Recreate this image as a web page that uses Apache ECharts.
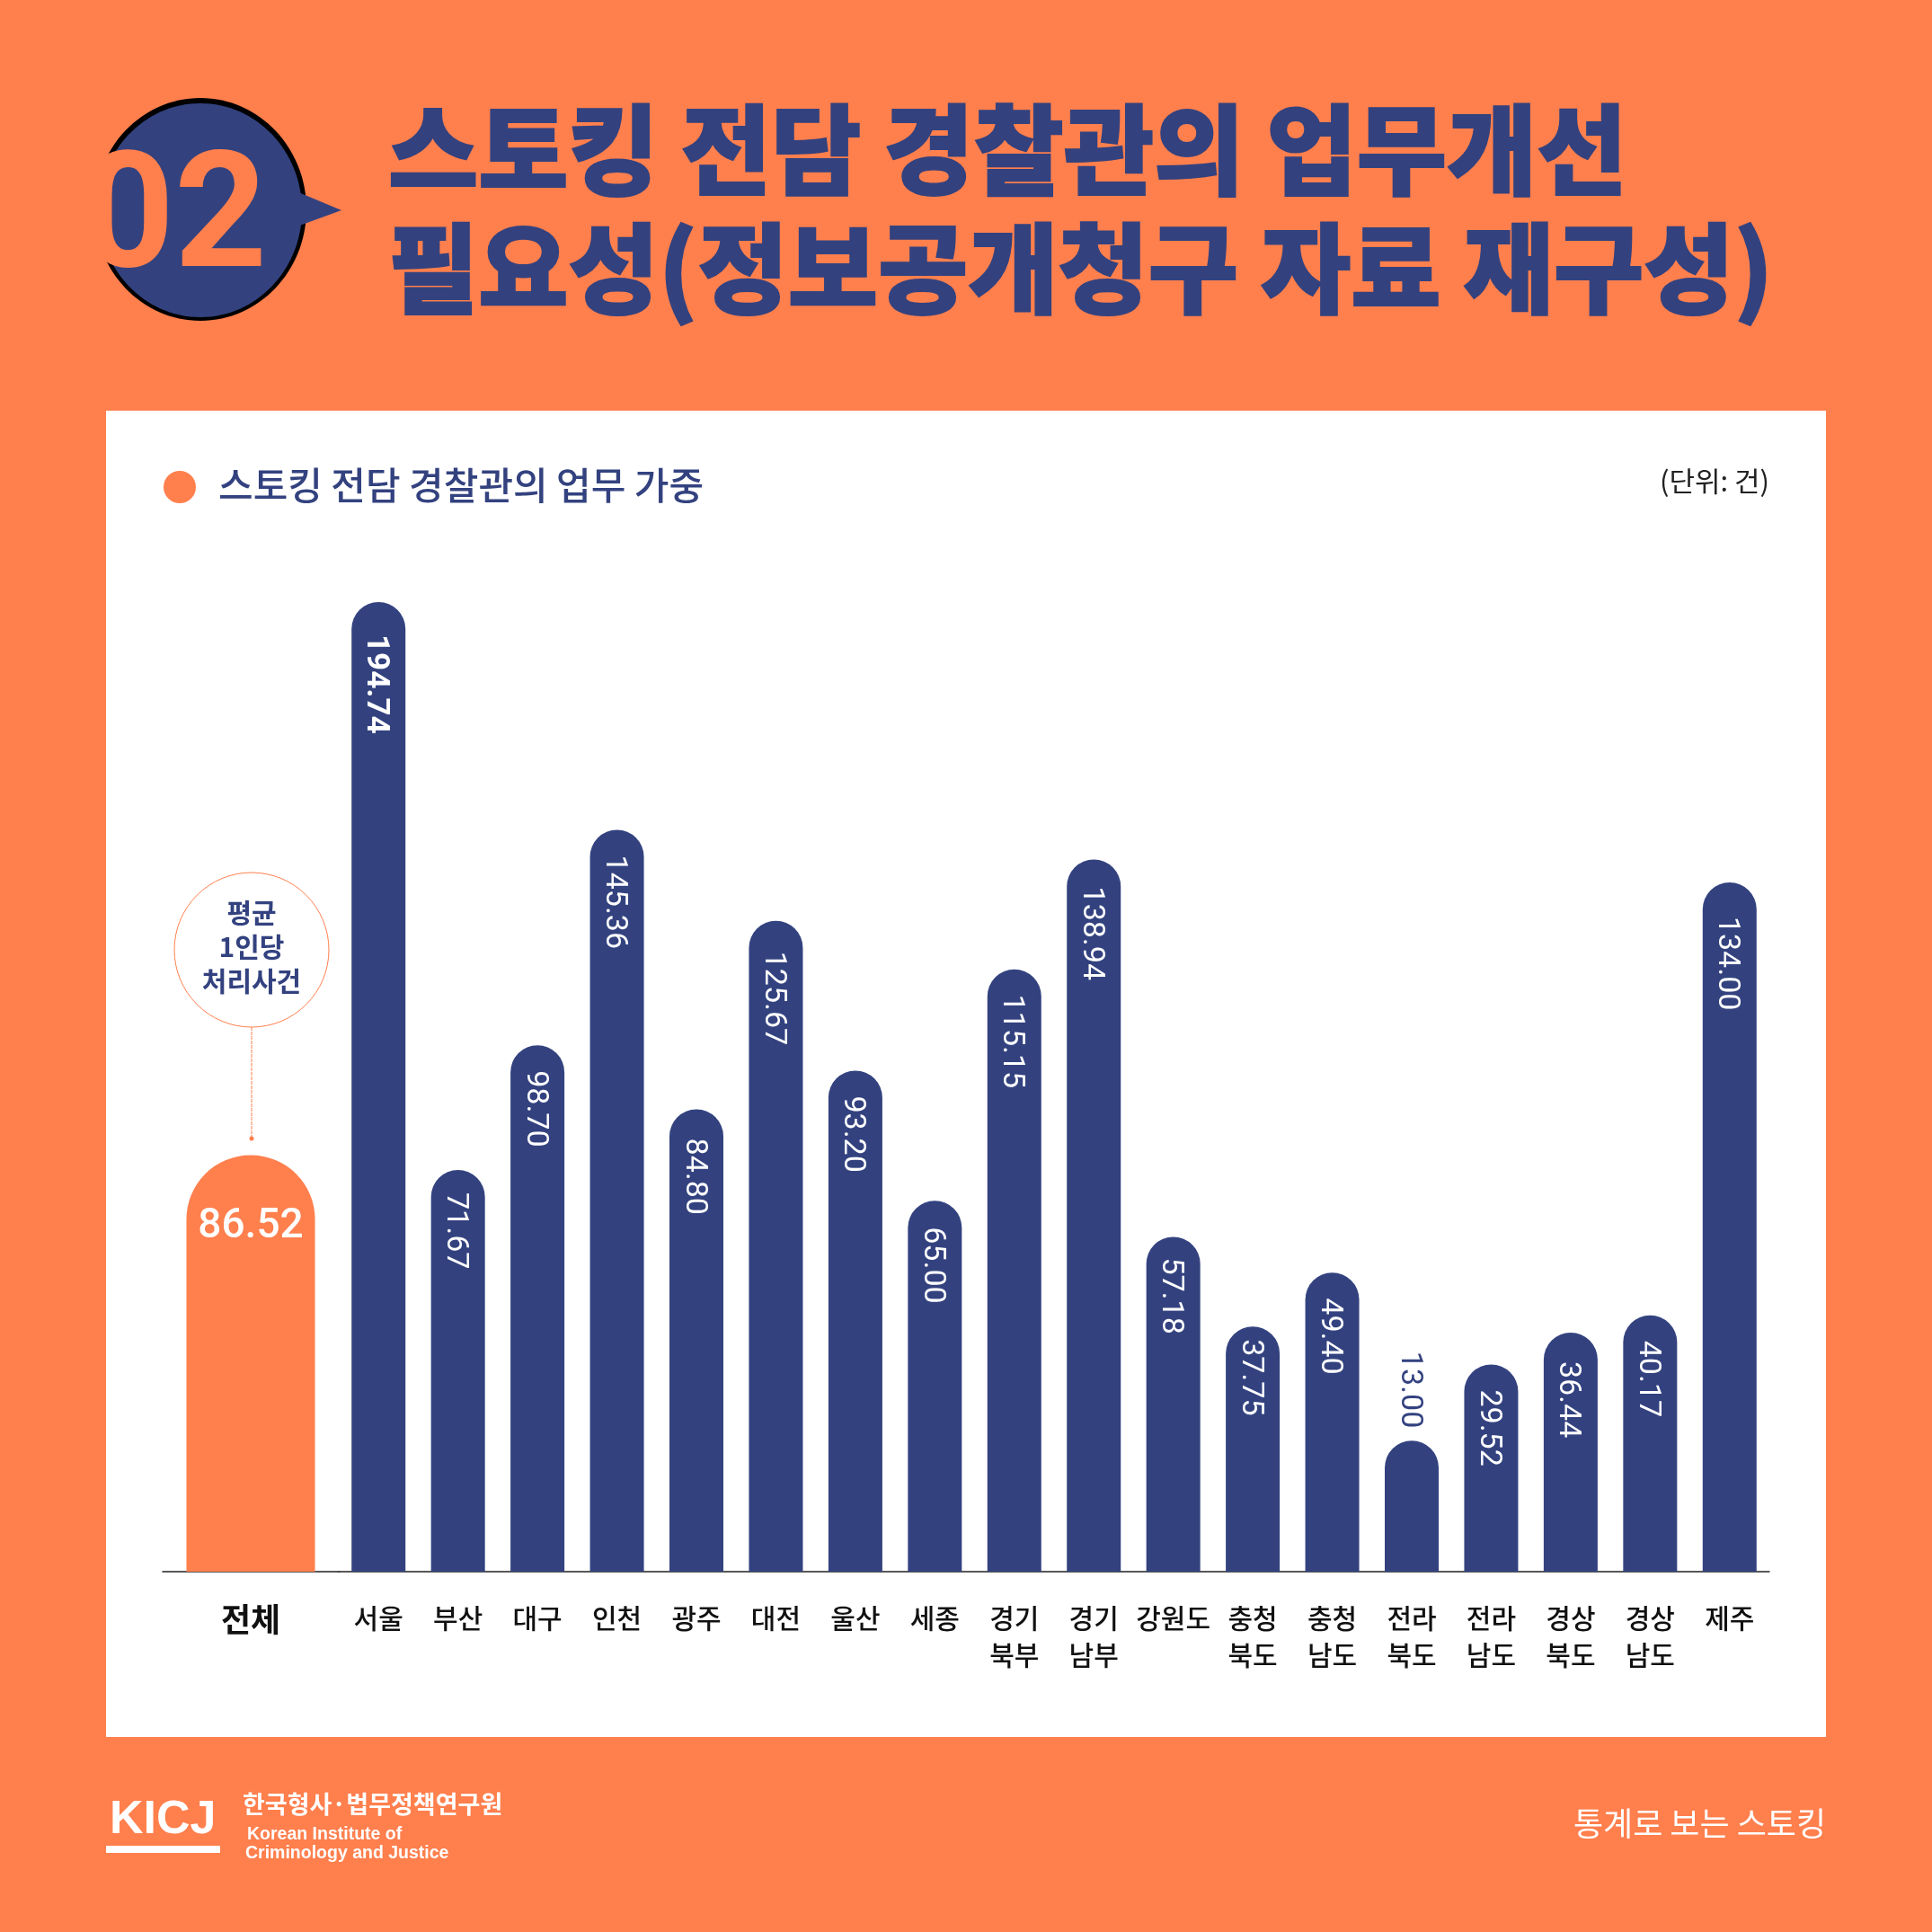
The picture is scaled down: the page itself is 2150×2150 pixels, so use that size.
<!DOCTYPE html>
<html>
<head>
    <meta charset="utf-8">
    <script src="https://cdn.jsdelivr.net/npm/echarts@6/dist/echarts.min.js"></script>
    <style>
        body, html {
            margin: 0;
            height: 100%;
        }
        #main {
            width: 2150px;
            height: 2150px;
        }
    </style>
</head>
<body>
<div id="main"></div>

<script>
    // 전체 평균
    var totalCategory = ['전체'];
    var totalValues = [86.52];
    // 지역별
    var regionCategories = ['서울', '부산', '대구', '인천', '광주', '대전', '울산', '세종', '경기\n북부', '경기\n남부',
        '강원도', '충청\n북도', '충청\n남도', '전라\n북도', '전라\n남도', '경상\n북도', '경상\n남도', '제주'];
    var regionValues = [194.74, 71.67, 98.70, 145.36, 84.80, 125.67, 93.20, 65.00, 115.15, 138.94,
        57.18, 37.75, 49.40, 13.00, 29.52, 36.44, 40.17, 134.00];
    // 원본 막대는 0 아래로 더 내려와 있음 (축 아래쪽 여백)
    var axisFoot = -15.38446;

    var ORANGE = '#FF7F4D';
    var NAVY = '#33427F';
    var CJK = '"Noto Sans CJK KR"';
    var NUM = 'Roboto';

    // 값 라벨 세로 위치 미세조정 (지역 index: 거리)
    var labelGap = {0: 36, 1: 25, 4: 32, 5: 34, 7: 29, 9: 30, 10: 23, 11: 14, 15: 32, 17: 38};

    var myChart = echarts.init(document.getElementById('main'));

    function txt(x, y, text, size, fill, weight, family, align) {
        return {
            type: 'text', x: x, y: y,
            style: {
                text: text, fontSize: size, fill: fill, fontWeight: weight || 400,
                fontFamily: family || CJK, align: align || 'left', verticalAlign: 'middle'
            }
        };
    }

    var regionData = regionValues.map(function (v, i) {
        var item = {value: v, label: {}};
        if (labelGap[i] != null) {
            item.label.distance = labelGap[i];
        }
        if (i === 0) {
            item.label.fontWeight = 'bold';
            item.label.fontSize = 35;
        }
        // 막대가 짧아 값을 막대 위에 표시
        if (v < 20) {
            item.label = {position: 'top', align: 'right', color: NAVY, distance: 14};
        }
        return item;
    });

    var option = {
        backgroundColor: ORANGE,
        animation: false,
        grid: [
            {left: 181, width: 196, top: 670, bottom: 401},
            {left: 377, width: 1592, top: 670, bottom: 401}
        ],
        xAxis: [
            {
                type: 'category', gridIndex: 0, data: totalCategory,
                axisTick: {show: false},
                axisLine: {lineStyle: {color: '#222', width: 1.5}},
                axisLabel: {color: '#111', fontSize: 36, fontWeight: 700, fontFamily: CJK, margin: 35}
            },
            {
                type: 'category', gridIndex: 1, data: regionCategories,
                axisTick: {show: false},
                axisLine: {onZero: false, lineStyle: {color: '#222', width: 1.5}},
                axisLabel: {
                    color: '#111', fontSize: 30, fontWeight: 500, fontFamily: CJK,
                    lineHeight: 41, margin: 31, interval: 0
                }
            }
        ],
        yAxis: [
            {type: 'value', gridIndex: 0, min: 0, max: 201.45, show: false},
            {type: 'value', gridIndex: 1, min: axisFoot, max: 194.74, show: false}
        ],
        series: [
            {
                type: 'bar', xAxisIndex: 0, yAxisIndex: 0, data: totalValues, barWidth: 143,
                itemStyle: {color: ORANGE, borderRadius: [71, 71, 0, 0]},
                label: {
                    show: true, position: 'insideTop', distance: 57, color: '#fff',
                    fontSize: 46, fontWeight: 500, fontFamily: NUM,
                    formatter: function (p) { return p.value.toFixed(2); }
                }
            },
            {
                type: 'bar', xAxisIndex: 1, yAxisIndex: 1, stack: 'region', barWidth: 60,
                data: regionValues.map(function () { return axisFoot; }),
                itemStyle: {color: NAVY},
                silent: true
            },
            {
                type: 'bar', xAxisIndex: 1, yAxisIndex: 1, stack: 'region', data: regionData, barWidth: 60,
                itemStyle: {color: NAVY, borderRadius: [30, 30, 0, 0]},
                label: {
                    show: true, position: 'insideTop', distance: 28, rotate: -90, offset: [0, 3],
                    align: 'left', verticalAlign: 'middle', color: '#fff',
                    fontSize: 34, fontFamily: NUM,
                    formatter: function (p) { return p.value.toFixed(2); }
                }
            }
        ],
        graphic: [
            // 흰 패널
            {type: 'rect', z: -1, shape: {x: 118, y: 457, width: 1914, height: 1476}, style: {fill: '#fff'}},

            // 02 말풍선
            {type: 'ellipse', shape: {cx: 223, cy: 233, rx: 118, ry: 124}, style: {fill: '#000'}},
            {type: 'ellipse', shape: {cx: 223, cy: 234, rx: 113, ry: 119}, style: {fill: NAVY}},
            {type: 'polygon', shape: {points: [[325, 211], [380, 234], [325, 254]]}, style: {fill: NAVY}},
            txt(194, 251, '02', 180, ORANGE, 700, NUM, 'center'),

            // 제목
            {
                type: 'text', x: 432, y: 167,
                style: {
                    text: '스토킹 전담 경찰관의 업무개선', fontSize: 109, fontWeight: 900, fontFamily: CJK,
                    fill: NAVY, stroke: NAVY, lineWidth: 2, verticalAlign: 'middle'
                }
            },
            {
                type: 'text', x: 432, y: 299,
                style: {
                    text: '필요성(정보공개청구 자료 재구성)', fontSize: 109, fontWeight: 900, fontFamily: CJK,
                    fill: NAVY, stroke: NAVY, lineWidth: 2, verticalAlign: 'middle'
                }
            },

            // 범례, 단위
            {type: 'circle', shape: {cx: 200, cy: 542, r: 18}, style: {fill: ORANGE}},
            txt(243, 540, '스토킹 전담 경찰관의 업무 가중', 42, NAVY, 500),
            txt(1969, 535, '(단위: 건)', 31, '#222', 400, CJK, 'right'),

            // 평균 주석
            {
                type: 'circle', shape: {cx: 280, cy: 1057, r: 86},
                style: {fill: '#fff', stroke: ORANGE, lineWidth: 1}
            },
            txt(280, 1016, '평균', 30, NAVY, 700, CJK, 'center'),
            txt(280, 1054, '1인당', 30, NAVY, 700, CJK, 'center'),
            txt(280, 1092, '처리사건', 30, NAVY, 700, CJK, 'center'),
            {
                type: 'line', shape: {x1: 280, y1: 1143, x2: 280, y2: 1267},
                style: {stroke: ORANGE, lineWidth: 1, lineDash: [4, 1]}
            },
            {type: 'circle', shape: {cx: 280, cy: 1267, r: 2.5}, style: {fill: ORANGE}},

            // 하단
            txt(122, 2026, 'KICJ', 52, '#fff', 700, '"Liberation Sans"'),
            {type: 'rect', shape: {x: 118, y: 2054, width: 127, height: 8}, style: {fill: '#fff'}},
            txt(270, 2008, '한국형사·법무정책연구원', 27, '#fff', 700),
            txt(275, 2042, 'Korean Institute of', 19.5, '#fff', 700, '"Liberation Sans"'),
            txt(273, 2063, 'Criminology and Justice', 19.5, '#fff', 700, '"Liberation Sans"'),
            txt(2032, 2029, '통계로 보는 스토킹', 36, '#fff', 400, CJK, 'right')
        ]
    };
    myChart.setOption(option);
</script>
</body>
</html>
